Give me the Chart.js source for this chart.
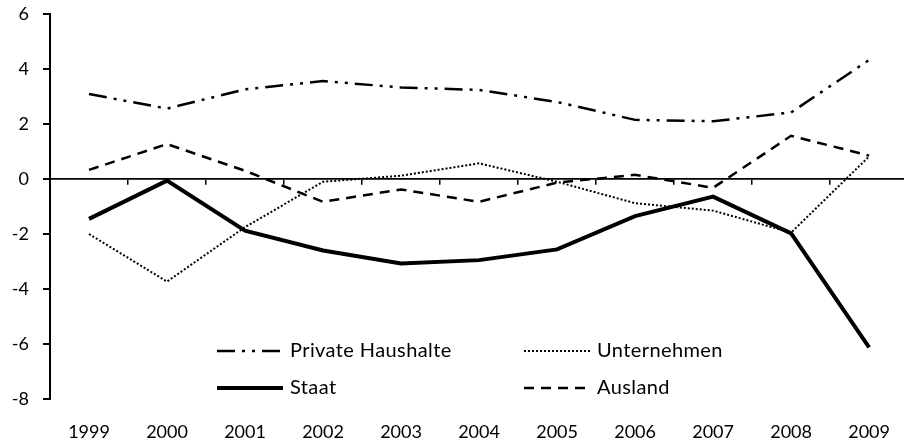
<!DOCTYPE html>
<html>
<head>
<meta charset="utf-8">
<script src="https://cdn.jsdelivr.net/npm/chart.js@4.4.1/dist/chart.umd.min.js"></script>
<style>
    body { margin: 0; overflow: hidden; background: #fff; }
    #wrap { width: 912px; height: 444px; }
</style>
</head>
<body>
<div id="wrap"><canvas id="chart"></canvas></div>
<script>
// Finanzierungssalden
const years = ['1999', '2000', '2001', '2002', '2003', '2004', '2005', '2006', '2007', '2008', '2009']
const privateHaushalte = [3.09, 2.56, 3.26, 3.56, 3.33, 3.24, 2.8, 2.15, 2.1, 2.42, 4.33]
const unternehmen = [-2.0, -3.73, -1.75, -0.1, 0.12, 0.57, -0.1, -0.88, -1.15, -1.95, 0.82]
const staat = [-1.45, -0.06, -1.88, -2.6, -3.07, -2.95, -2.56, -1.35, -0.64, -1.98, -6.12]
const ausland = [0.33, 1.27, 0.3, -0.83, -0.38, -0.83, -0.13, 0.15, -0.32, 1.57, 0.85]

const font = { family: 'Lato', size: 18 }
const legendFont = { family: 'Lato', size: 20 }

// legend sits inside the plot, two columns
const insideLegend = {
    id: 'insideLegend',
    afterDraw(chart, args, opts) {
        const ctx = chart.ctx
        chart.data.datasets.forEach((ds, i) => {
            const x = opts.x[i % 2]
            const y = opts.y[Math.floor(i / 2)]
            ctx.save()
            ctx.strokeStyle = ds.borderColor
            ctx.lineWidth = ds.borderWidth
            ctx.setLineDash(ds.borderDash || [])
            ctx.beginPath()
            ctx.moveTo(x, y)
            ctx.lineTo(x + opts.sampleWidth, y)
            ctx.stroke()
            ctx.setLineDash([])
            ctx.fillStyle = '#000'
            ctx.font = legendFont.size + 'px ' + legendFont.family
            ctx.letterSpacing = '0.4px'
            ctx.textBaseline = 'middle'
            ctx.fillText(ds.label, x + opts.sampleWidth + opts.gap, y)
            ctx.restore()
        })
    }
}

const canvas = document.getElementById('chart')
const myChart = new Chart(canvas, {
    type: 'line',
    data: {
        labels: years,
        datasets: [
            {
                label: 'Private Haushalte',
                data: privateHaushalte,
                borderColor: '#000',
                borderWidth: 2.5,
                borderDash: [18, 7, 3, 7, 3, 7]
            },
            {
                label: 'Unternehmen',
                data: unternehmen,
                borderColor: '#000',
                borderWidth: 2,
                borderDash: [2, 2]
            },
            {
                label: 'Staat',
                data: staat,
                borderColor: '#000',
                borderWidth: 4
            },
            {
                label: 'Ausland',
                data: ausland,
                borderColor: '#000',
                borderWidth: 2.5,
                borderDash: [10, 7]
            }
        ]
    },
    options: {
        responsive: true,
        maintainAspectRatio: false,
        animation: false,
        layout: { padding: { top: 14, left: 0, right: 0, bottom: 0 } },
        elements: {
            point: { radius: 0 },
            line: { tension: 0, fill: false }
        },
        scales: {
            x: {
                offset: true,
                grid: { display: false, drawTicks: false },
                border: { display: false },
                ticks: { color: '#000', font: font, padding: 22, maxRotation: 0 },
                afterFit(s) { s.height = 45 }
            },
            x0: {
                type: 'category',
                labels: years,
                position: { y: 0 },
                offset: true,
                grid: {
                    display: true,
                    offset: true,
                    drawOnChartArea: false,
                    tickLength: 5,
                    color: '#000',
                    lineWidth: 1.5
                },
                border: { display: true, color: '#000', width: 1.7 },
                ticks: { display: false },
                afterFit(s) { s.height = 0; s.paddingTop = 0; s.paddingBottom = 0 }
            },
            y: {
                min: -8,
                max: 6,
                ticks: { stepSize: 2, color: '#000', font: font, padding: 14 },
                grid: { drawOnChartArea: false, tickLength: 7, color: '#000', lineWidth: 2 },
                border: { color: '#000', width: 2 },
                afterFit(s) { s.width = 50; s.paddingTop = 0; s.paddingBottom = 0 }
            }
        },
        plugins: {
            legend: { display: false },
            tooltip: { enabled: false },
            insideLegend: { x: [217, 524], y: [351, 388], sampleWidth: 66, gap: 7 }
        }
    },
    plugins: [insideLegend]
})
</script>
</body>
</html>
